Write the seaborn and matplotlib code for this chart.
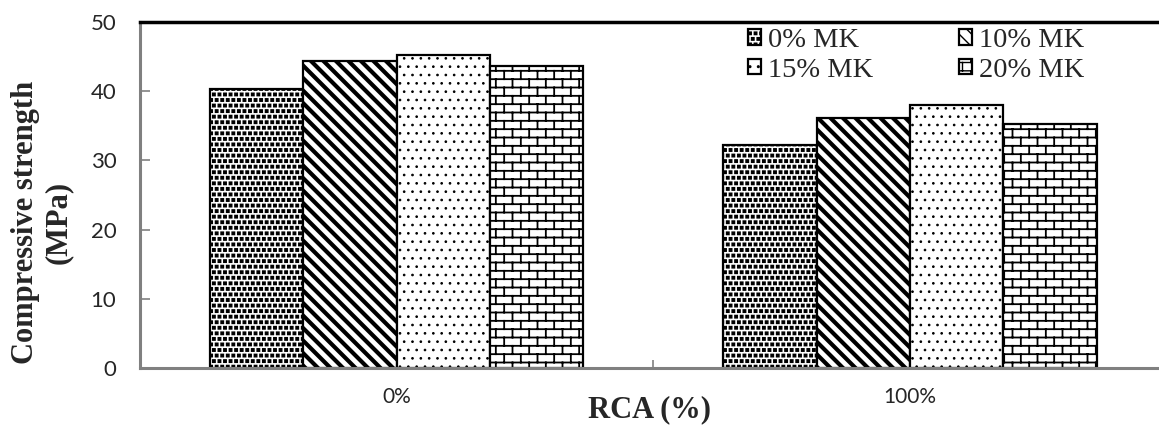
import warnings
import numpy as np
import pandas as pd
import matplotlib
matplotlib.use("Agg")
import matplotlib.pyplot as plt
import matplotlib.hatch as mhatch
from matplotlib.path import Path
import seaborn as sns

warnings.filterwarnings("ignore")

# data
rca = ["0%", "100%"]
mk = ["0% MK", "10% MK", "15% MK", "20% MK"]
strength_0 = [40.3, 44.3, 45.2, 43.7]
strength_100 = [32.2, 36.1, 38.0, 35.2]


# extra hatches: bricks ('b'), denser diagonals ('d'), small squares ('s')
class BrickHatch(mhatch.HatchPatternBase):
    def __init__(self, hatch, density):
        n = hatch.count('b') * density
        self.n = n - n % 2
        self.filled = False
        self.should_stroke = True
        if self.n:
            self.num_vertices = 2 * (self.n + self.n * (self.n // 2) + self.n // 2)
        else:
            self.num_vertices = 0

    def set_vertices_and_codes(self, vertices, codes):
        n = self.n
        h = 1.0 / n
        w = 2.0 / n
        verts = []
        for i in range(n):
            y = (i + 0.5) * h
            verts += [(0.0, y), (1.0, y)]
        for i in range(n):
            off = w / 4 if i % 2 == 0 else 3 * w / 4
            y0 = (i + 0.5) * h
            for j in range(n // 2):
                x = j * w + off
                if i < n - 1:
                    verts += [(x, y0), (x, y0 + h)]
                else:
                    verts += [(x, y0), (x, 1.0)]
                    verts += [(x, 0.0), (x, 0.5 * h)]
        verts = np.array(verts)
        vertices[:len(verts)] = verts
        codes[0::2] = Path.MOVETO
        codes[1::2] = Path.LINETO


class DiagHatch(mhatch.SouthEastHatch):
    def __init__(self, hatch, density):
        self.num_lines = hatch.count('d') * 4
        self.num_vertices = (self.num_lines + 1) * 2 if self.num_lines else 0


class SquareDots(mhatch.Shapes):
    size = 0.45
    filled = True

    def __init__(self, hatch, density):
        self.num_rows = hatch.count('s') * density
        sq = Path.unit_rectangle()
        self.shape_vertices = sq.vertices - 0.5
        self.shape_codes = sq.codes
        super().__init__(hatch, density)


mhatch._hatch_types.append(BrickHatch)
mhatch._hatch_types.append(DiagHatch)
mhatch._hatch_types.append(SquareDots)

df = pd.DataFrame({
    "RCA": np.repeat(rca, len(mk)),
    "MK": mk * len(rca),
    "strength": strength_0 + strength_100,
})

sns.set_style("white")
plt.rcParams['font.family'] = ['Lato', 'DejaVu Sans']

fig = plt.figure(figsize=(11.59, 4.26), dpi=100)
ax = fig.add_axes([140 / 1159, 58 / 426, 1 - 140 / 1159, 346 / 426])

sns.barplot(data=df, x="RCA", y="strength", hue="MK", order=rca, hue_order=mk,
            palette=["white"] * 4, saturation=1, edgecolor="black", linewidth=1.6,
            width=0.727, errorbar=None, ax=ax)

hatches = ["sss", "dddd", "..", "bb"]
hatch_lw = [1.0, 3.0, 0.7, 1.3]
for cont, hh, lw in zip(ax.containers, hatches, hatch_lw):
    for p in cont.patches:
        p.set_hatch(hh)
        if hasattr(p, "set_hatch_linewidth"):
            p.set_hatch_linewidth(lw)

ax.set_xlim(-0.5, 1.485)
ax.set_ylim(0, 50)
ax.set_yticks([0, 10, 20, 30, 40, 50])
ax.tick_params(axis='y', labelsize=16, length=7, width=1.2, color='#808080',
               direction='in', left=True, pad=17)
ax.tick_params(axis='x', labelsize=15, length=0, pad=14)
ax.set_xticks([0.5], minor=True)
ax.tick_params(axis='x', which='minor', direction='in', length=6, width=1.2,
               color='#808080', bottom=True)

for s in ["left", "bottom"]:
    ax.spines[s].set_color("#808080")
    ax.spines[s].set_linewidth(2.2)
ax.spines["top"].set_color("black")
ax.spines["top"].set_linewidth(2.5)
ax.spines["right"].set_visible(False)

serif = ['Liberation Serif', 'DejaVu Serif']
ax.set_ylabel("Compressive strength\n(MPa)", family=serif, fontsize=22,
              fontweight='bold', linespacing=1.2)
ax.yaxis.label.set_verticalalignment('center')
ax.yaxis.set_label_coords(-98 / 1019, 0.42)
ax.set_xlabel("RCA (%)", family=serif, fontsize=22, fontweight='bold')
ax.xaxis.label.set_verticalalignment('center')
ax.xaxis.set_label_coords(0.5, -42 / 346)

# legend fills row by row in the reference
handles = [c.patches[0] for c in ax.containers]
order = [0, 2, 1, 3]
ax.legend([handles[i] for i in order], [mk[i] for i in order], ncol=2,
          frameon=False, loc='upper left',
          bbox_to_anchor=(734 / 1159, 1 - 14 / 426), bbox_transform=fig.transFigure,
          prop={'family': serif, 'size': 20.5}, handlelength=0.45, handleheight=0.45,
          handletextpad=0.25, columnspacing=3.0, labelspacing=0.15, borderpad=0)

fig.savefig("out.png", dpi=100)
